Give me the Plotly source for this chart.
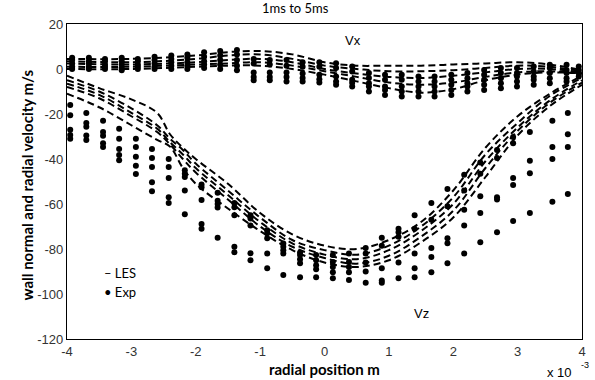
import plotly.graph_objects as go

# ---- LES profiles (five instants, 1 ms to 5 ms) ----
les_vz_x = [-4, -3.5, -3, -2.6, -2.4, -2.2, -2, -1.5, -1, -0.5, 0, 0.5, 1, 1.5, 2, 2.5, 3, 3.5, 4]
les_vz_1 = [-3, -8.5, -13.5, -19.5, -29, -35, -40, -51, -64, -73.5, -78.5, -80, -76, -68, -54, -35, -21, -11, -3]
les_vz_2 = [-5, -10, -17.5, -25, -31, -36, -42, -54, -66, -76, -80.5, -82.5, -78.5, -70, -57, -38, -24, -12, -4]
les_vz_3 = [-6.5, -11.5, -19.5, -26.5, -32.5, -38, -44, -56, -68, -77.5, -82.5, -84.5, -80.5, -72, -60, -41, -26, -14, -5]
les_vz_4 = [-8, -13, -21, -28, -33.5, -40, -46, -58, -70, -79, -84, -86.5, -83, -74.5, -63, -44, -27.5, -15, -6]
les_vz_5 = [-11, -17, -25, -31.5, -34.5, -44, -51, -62, -72, -80.5, -86, -88, -85, -77, -66, -48, -29.5, -16.5, -7]

les_vx_x = [-4, -3, -2, -1.5, -1, -0.5, 0, 0.5, 1, 1.5, 2, 2.5, 3, 3.5, 4]
les_vx_1 = [4.5, 4.5, 6, 7.5, 8, 6.5, 3, 1.5, 1.5, 1.5, 2, 2.5, 3, 2, -0.5]
les_vx_2 = [3.5, 3, 4.5, 6, 6.5, 4.5, 1.5, 0, -1, -1, -0.5, 0.5, 1.5, 1, -1]
les_vx_3 = [2.5, 2, 3, 4, 4.5, 3, 0, -2, -3.5, -4, -3, -1.5, 0, 0, -1.5]
les_vx_4 = [1, 1, 2, 2.5, 3, 1.5, -1, -3.5, -6, -7, -6, -3.5, -1.5, -1, -2]
les_vx_5 = [0, 0, 1, 1.5, 1.5, 0, -2.5, -5.5, -8.5, -10.5, -9, -5, -2.5, -1.5, -2]

# ---- Experimental stations (x 1e-3 m) and the values measured at each ----
exp_vz_x = [-3.95, -3.70, -3.44, -3.19, -2.93, -2.68, -2.42, -2.17, -1.91, -1.66,
            -1.40, -1.15, -0.89, -0.64, -0.38, -0.13, 0.13, 0.38, 0.64, 0.89,
            1.15, 1.40, 1.66, 1.91, 2.17, 2.42, 2.68, 2.93, 3.19, 3.54, 3.78]
exp_vz = [
    [-16, -20.5, -27, -29.3, -31],
    [-19.5, -24, -25.7, -29.5, -31.5],
    [-23, -28, -29.7, -33, -34.7],
    [-26.6, -31, -35.5, -38.2, -40.5],
    [-31, -34.7, -39, -43, -46.7],
    [-35.5, -39.5, -43.6, -50.3, -54.3],
    [-40, -43.6, -48.4, -57, -59.6],
    [-45, -46.5, -48, -54, -64.5],
    [-51.3, -52.6, -58.2, -68.9, -71],
    [-55, -58.5, -60, -61.5, -75],
    [-59.6, -61.4, -65, -79, -81.4],
    [-65, -66.4, -69.5, -81.9, -85],
    [-71.7, -73, -75.2, -82, -88.6],
    [-77.5, -79, -80.5, -82, -91.6],
    [-81.5, -82.7, -84.5, -86.3, -92.5],
    [-82.7, -85, -87.2, -89, -92.5],
    [-82.7, -85.8, -88, -90.3, -93],
    [-82, -85.8, -88, -90.3, -93.8],
    [-79.6, -82, -86, -90, -95],
    [-75, -78.5, -88.5, -94, -95],
    [-71, -72.5, -74.5, -86, -93],
    [-65, -71, -82, -88.5, -92.5],
    [-59.6, -67, -79.6, -83.5, -90.3],
    [-53.3, -61, -75.2, -77.4, -86.3],
    [-47, -54, -62.5, -69.5, -82],
    [-41.5, -46.5, -56.5, -64, -77],
    [-36, -39.5, -57, -58, -72.5],
    [-30.2, -33, -48.4, -51.5, -67.6],
    [-28, -40.8, -46.3, -64, None],
    [-23, -34.7, -40, -59, None],
    [-19.5, -29, -34.7, -55.6, None],
]

exp_vx_x = [-3.92, -3.66, -3.41, -3.15, -2.90, -2.64, -2.38, -2.13, -1.87, -1.62,
            -1.36, -1.10, -0.85, -0.59, -0.34, -0.08, 0.18, 0.43, 0.69, 0.94,
            1.20, 1.46, 1.71, 1.97, 2.22, 2.48, 2.74, 2.99, 3.25, 3.50, 3.76, 3.95]
exp_vx = [
    [5, 4, 2.5, 1, 0],
    [5, 3.5, 2.5, 1, 0],
    [4.5, 3.5, 2, 1, 0],
    [5, 3.5, 2, 0.5, -0.5],
    [4.5, 3.5, 2, 1, 0],
    [5.5, 4, 2.5, 1, 0],
    [6, 4.5, 3, 1.5, 0],
    [6.5, 5, 3, 1.5, 0],
    [7.5, 5.5, 3.5, 2, 0.5],
    [8, 6, 4, 2, 0],
    [8.5, 6.5, 4, 1.5, -0.5],
    [4.5, 2.5, -1.5, -3.5, -5],
    [4, 2, -1.5, -3.5, -5],
    [4, 1.5, -1.5, -3.5, -5.5],
    [3, 1, -2, -4, -5.5],
    [3, 1, -2.5, -4.5, -6],
    [2.6, 0.4, -3.3, -5.6, -7],
    [1.1, -1.1, -4.8, -6.1, -7.8],
    [-1.8, -4, -6.3, -7.8, -10],
    [-2.6, -4.8, -7.8, -9.3, -11.5],
    [-2.6, -4.8, -7.8, -10, -12.2],
    [-3.3, -5.6, -7.8, -10, -12.2],
    [-3.3, -5.6, -7.8, -10, -12.2],
    [-2.6, -4.8, -7, -9.3, -11.5],
    [-1.8, -4.1, -6.3, -7.8, -10],
    [-0.4, -2.6, -4.8, -7, -9.3],
    [0.4, -1.8, -4.1, -6.3, -8.5],
    [0.4, -1.8, -3.3, -5.6, -7.8],
    [1.1, -1.1, -3.3, -4.8, -7],
    [1.9, 0.4, -1.8, -4.1, -6.3],
    [1.9, -0.4, -1.8, -4.1, -5.6],
    [1.1, -0.4, -1.8, -3.3, None],
]

x_ticks = [-4, -3, -2, -1, 0, 1, 2, 3, 4]
y_ticks = [20, 0, -20, -40, -60, -80, -100, -120]

fig = go.Figure()

dash_style = dict(color="black", width=2, dash="7px,4px")
for xs, ys in [(les_vz_x, les_vz_1), (les_vz_x, les_vz_2), (les_vz_x, les_vz_3),
               (les_vz_x, les_vz_4), (les_vz_x, les_vz_5),
               (les_vx_x, les_vx_1), (les_vx_x, les_vx_2), (les_vx_x, les_vx_3),
               (les_vx_x, les_vx_4), (les_vx_x, les_vx_5)]:
    fig.add_trace(go.Scatter(x=xs, y=ys, mode="lines", line=dash_style,
                             line_shape="spline", showlegend=False, hoverinfo="skip"))


def flatten(xs, cols):
    px, py = [], []
    for x, vals in zip(xs, cols):
        for v in vals:
            if v is not None:
                px.append(x)
                py.append(v)
    return px, py


for xs, cols in [(exp_vz_x, exp_vz), (exp_vx_x, exp_vx)]:
    px, py = flatten(xs, cols)
    fig.add_trace(go.Scatter(x=px, y=py, mode="markers",
                             marker=dict(color="black", size=6),
                             showlegend=False, hoverinfo="skip"))

tick_font = dict(family="Liberation Sans, Arial, sans-serif", size=13, color="#333333")
axis_common = dict(showgrid=False, zeroline=False, showline=True, mirror=True,
                   linecolor="black", linewidth=1.2, ticks="", tickfont=tick_font)

fig.update_xaxes(range=[-4, 4], tickvals=x_ticks, ticktext=[str(v) for v in x_ticks], **axis_common)
fig.update_yaxes(range=[-120, 20], tickvals=y_ticks, ticktext=[str(v) for v in y_ticks], **axis_common)

label_font = dict(family="Lato, Carlito, sans-serif", size=15, color="black")
text_font = dict(family="Lato, Carlito, sans-serif", size=13, color="black")
plain_font = dict(family="Liberation Sans, Arial, sans-serif", size=13, color="black")

annotations = [
    dict(text="<b>radial position m</b>", xref="paper", yref="paper", x=0.5, y=0,
         yshift=-30, xanchor="center", yanchor="middle", showarrow=False, font=label_font),
    dict(text="<b>wall normal and radial velocity m/s</b>", xref="paper", yref="paper",
         x=0, y=0.5, xshift=-41, yshift=-4, xanchor="center", yanchor="middle", textangle=-90,
         showarrow=False, font=label_font),
    dict(text="1ms to 5ms", xref="paper", yref="paper", x=0.5, y=1, xshift=-29, yshift=16,
         xanchor="center", yanchor="middle", showarrow=False, font=text_font),
    dict(text="Vx", x=0.45, y=12.6, showarrow=False, font=plain_font),
    dict(text="Vz", x=1.51, y=-108.5, showarrow=False, font=plain_font),
    dict(text="– LES", x=-3.45, y=-90.7, xanchor="left", showarrow=False, font=text_font),
    dict(text="• Exp", x=-3.45, y=-99.2, xanchor="left", showarrow=False, font=text_font),
    dict(text="x 10", xref="paper", yref="paper", x=1, y=0, xshift=-23, yshift=-33,
         xanchor="center", yanchor="middle", showarrow=False, font=plain_font),
    dict(text="-3", xref="paper", yref="paper", x=1, y=0, xshift=3, yshift=-26,
         xanchor="center", yanchor="middle", showarrow=False,
         font=dict(family="Liberation Sans, Arial, sans-serif", size=9, color="black")),
]

fig.update_layout(
    width=595, height=380,
    margin=dict(l=67, r=9, t=24, b=41, pad=0),
    paper_bgcolor="white", plot_bgcolor="white",
    showlegend=False,
    annotations=annotations,
)

fig.write_html("out.html")
